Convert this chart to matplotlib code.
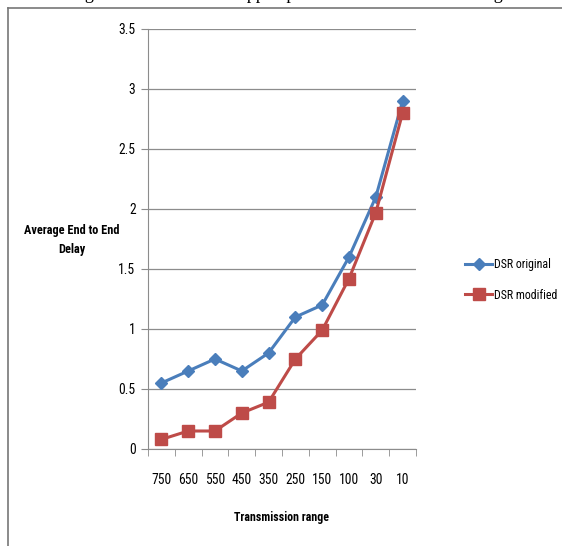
import matplotlib
matplotlib.use("Agg")
import matplotlib.pyplot as plt
from matplotlib.lines import Line2D
import numpy as np

ranges = ["750", "650", "550", "450", "350", "250", "150", "100", "30", "10"]
dsr_original = [0.55, 0.65, 0.75, 0.65, 0.80, 1.10, 1.20, 1.60, 2.10, 2.90]
dsr_modified = [0.08, 0.15, 0.15, 0.30, 0.39, 0.75, 0.99, 1.42, 1.97, 2.80]
y_ticks = [0, 0.5, 1, 1.5, 2, 2.5, 3, 3.5]

blue = "#4A7EBB"
red = "#BE4B48"
grid_col = "#8C8C8C"

plt.rcParams["font.family"] = ["Liberation Sans Narrow", "Roboto Condensed",
                               "Lato", "DejaVu Sans"]

fig = plt.figure(figsize=(5.62, 5.46), dpi=100)
ax = fig.add_axes([148 / 562, 97 / 546, 268 / 562, 420 / 546])

x = np.arange(len(ranges))
ax.plot(x, dsr_original, color=blue, lw=2.2, marker="D", ms=6.5,
        label="DSR original")
ax.plot(x, dsr_modified, color=red, lw=2.2, marker="s", ms=8.5,
        label="DSR modified")

ax.set_xlim(-0.5, len(ranges) - 0.5)
ax.set_ylim(0, 3.5)
ax.set_yticks(y_ticks)
ax.set_yticklabels(["0", "0.5", "1", "1.5", "2", "2.5", "3", "3.5"])
ax.set_xticks(x)
ax.set_xticklabels(ranges)
ax.set_xticks(np.arange(-0.5, len(ranges)), minor=True)
ax.tick_params(axis="x", which="major", length=0, pad=17, labelsize=9.8)
ax.tick_params(axis="x", which="minor", length=5, color=grid_col)
ax.tick_params(axis="y", length=5, color=grid_col, labelsize=9.8, pad=4)

ax.grid(axis="y", color=grid_col, lw=0.9)
ax.set_axisbelow(True)
for side in ["top", "right"]:
    ax.spines[side].set_visible(False)
for side in ["left", "bottom"]:
    ax.spines[side].set_color(grid_col)

fig.text(282 / 562, 1 - 518 / 546, "Transmission range", ha="center",
         va="center", fontsize=8.6, fontweight="bold")
fig.text(72 / 562, 1 - 240 / 546, "Average End to End\nDelay", ha="center",
         va="center", fontsize=8.8, fontweight="bold", linespacing=1.6)

fig.legend(loc="center left", bbox_to_anchor=(460 / 562, 1 - 280 / 546),
           frameon=False, fontsize=8.6, labelspacing=1.45, handlelength=2.3,
           handletextpad=0.15, borderaxespad=0)

# frame and clipped caption from the page
fig.add_artist(Line2D([8 / 562, 8 / 562], [0, 1 - 8 / 546], color="#777777",
                      lw=1.2, transform=fig.transFigure))
fig.add_artist(Line2D([8 / 562, 1], [1 - 8 / 546, 1 - 8 / 546],
                      color="#777777", lw=1.2, transform=fig.transFigure))
fig.text(290 / 562, 1 + 1 / 546,
         "Figure 3: Number of dropped packets and transmission range",
         ha="center", va="baseline", fontsize=13,
         family=["Liberation Serif", "DejaVu Serif"])

fig.savefig("out.png", dpi=100)
